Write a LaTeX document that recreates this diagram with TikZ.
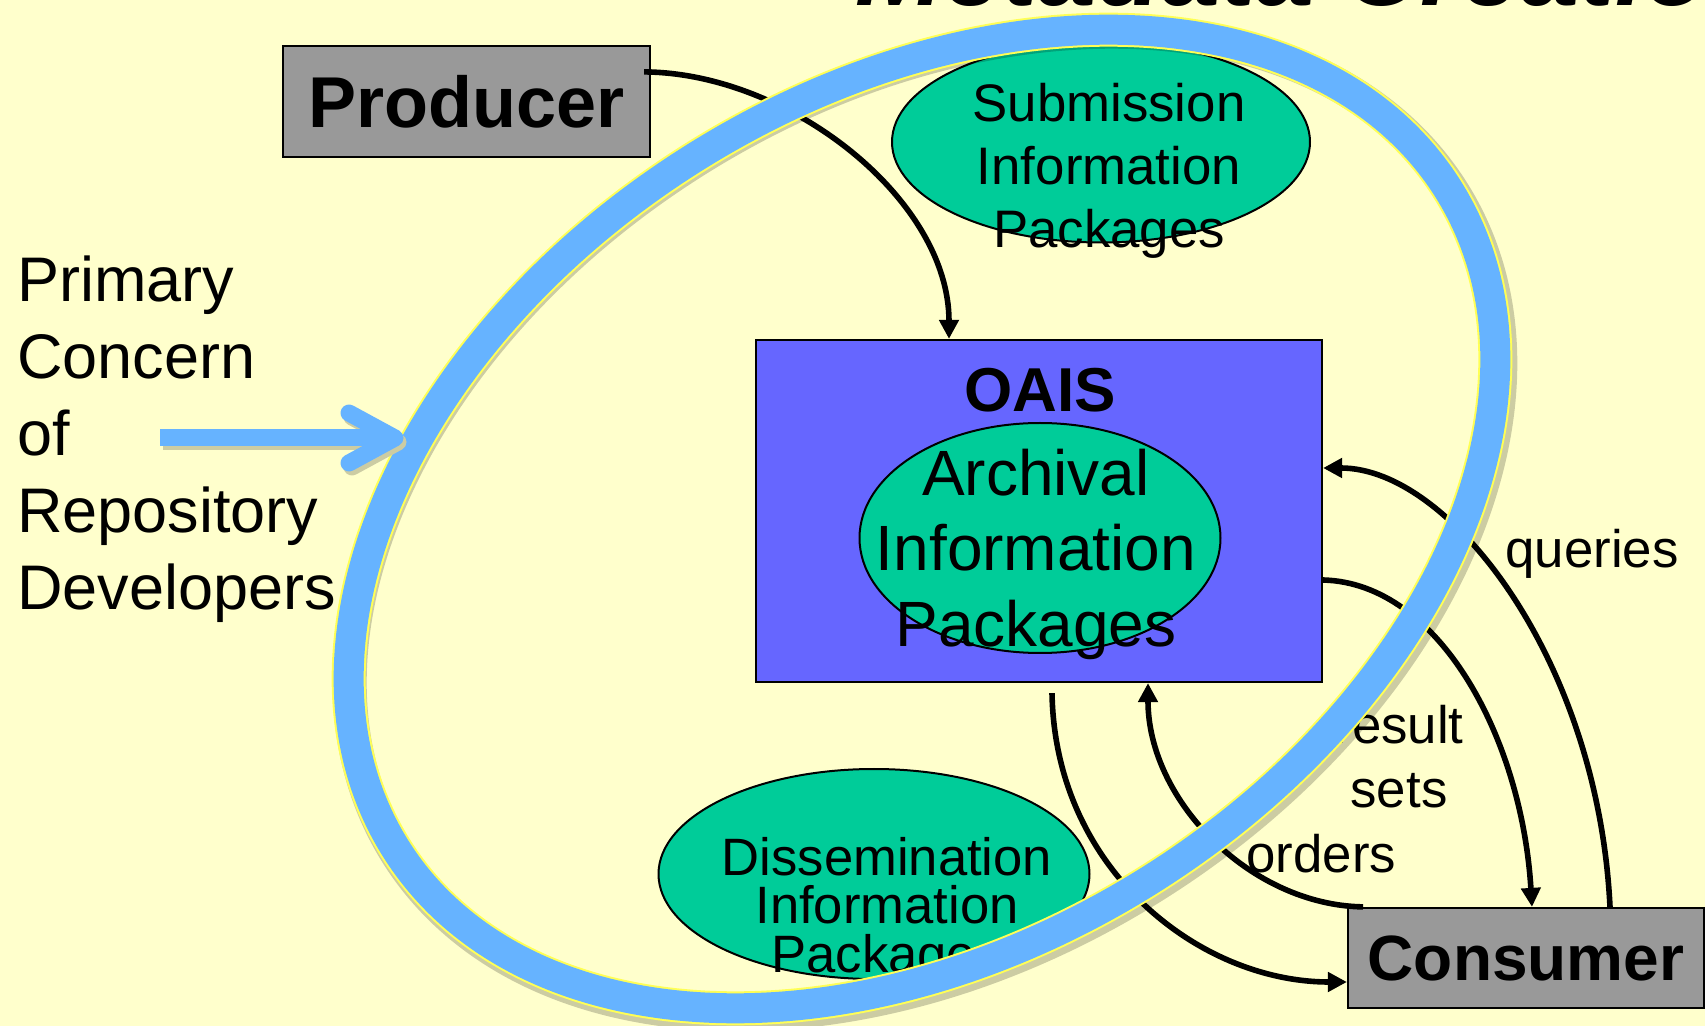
\documentclass[tikz,border=0pt]{standalone}
\usepackage{fontspec}
\setmainfont{Liberation Sans}
\usetikzlibrary{shapes.geometric,arrows.meta,calc}
\definecolor{paper}{HTML}{FFFFCC}
\definecolor{ringblue}{HTML}{66B3FF}
\definecolor{pkggreen}{HTML}{00CC99}
\definecolor{oaisblue}{HTML}{6666FF}
\definecolor{boxgrey}{HTML}{999999}
\definecolor{rimyellow}{HTML}{FFFF55}
\definecolor{dropgrey}{HTML}{CCCCA3}
\tikzset{
  actor/.style={draw, line width=1.1pt, fill=boxgrey, inner sep=0pt, font=\bfseries},
  pkg/.style={draw, ellipse, line width=1pt, fill=pkggreen, inner sep=0pt},
  pkgtext/.style={inner sep=0pt, align=center, anchor=base},
  flow/.style={line width=2.8pt, -{Triangle[length=9.5pt,width=9.5pt]}},
  word/.style={inner sep=0pt, font=\fontsize{26.4}{32}\selectfont},
}
\begin{document}
\begin{tikzpicture}[x=0.5pt, y=-0.5pt]
    \def\cx{922}
    \def\cy{519}
    % Page
    \useasboundingbox (0,0) rectangle (1705,1026);
    \clip (0,0) rectangle (1705,1026);
    \fill[paper] (0,0) rectangle (1705,1026);
    % Title, cut by the top edge
    \node[anchor=base west, inner sep=0pt, font=\fontsize{53}{60}\selectfont\bfseries\itshape] (title) at (855,6) {Metadata Creation};
    % Side note (base = last line)
    \node[anchor=base west, inner sep=0pt, align=left, font=\fontsize{31.5}{38.5}\selectfont] (concern) at (17,610) {Primary\\Concern\\of\\Repository\\Developers};
    % Packages outside the archive
    \node[pkg, minimum width=209pt, minimum height=100.5pt] (sip) at (1101,142) {};
    \node[pkg, minimum width=215.5pt, minimum height=105pt] (dip) at (874,874) {};
    % Producer, archive and consumer
    \node[actor, minimum width=183.5pt, minimum height=55.5pt, font=\fontsize{36}{40}\selectfont\bfseries] (producer) at (466.5,101.5) {Producer};
    \node[draw, line width=1.1pt, fill=oaisblue, minimum width=283pt, minimum height=171pt] (oais) at (1039,511) {};
    \node[actor, minimum width=178pt, minimum height=50pt, font=\fontsize{32}{36}\selectfont\bfseries] (consumer) at (1526,958) {Consumer};
    \node[anchor=base, inner sep=0pt, font=\fontsize{31}{36}\selectfont\bfseries] (oaislabel) at (1040,412) {OAIS};
    \node[pkg, minimum width=180.5pt, minimum height=115pt] (aip) at (1040,538) {};
    % Package texts
    \node[pkgtext, font=\fontsize{26.4}{31.5}\selectfont] (siptext) at (1109,248) {Submission\\Information\\Packages};
    \node[pkgtext, font=\fontsize{32}{38}\selectfont] (aiptext) at (1036,647) {Archival\\Information\\Packages};
    \node[pkgtext, font=\fontsize{26.3}{24.25}\selectfont] (diptext) at (887,972) {Dissemination\\Information\\Packages};
    % Flows
    \draw[flow] ([shift={(-7,27)}]producer.north east) .. controls (790,73) and (949,200) .. (oais.north -| 949,0);
    \draw[flow] (consumer.north -| 1610,0) .. controls (1598,660) and (1450,468) .. (oais.east |- 0,468);
    \draw[flow] (oais.east |- 0,580) .. controls (1440,583) and (1522,740) .. (consumer.north -| 1532,0);
    \draw[flow] (consumer.north -| 1363,0) .. controls (1250,905) and (1148,800) .. (oais.south -| 1148,0);
    \draw[flow] ($(oais.south -| 1052,0)+(0,10)$) .. controls (1055,870) and (1200,982) .. (consumer.west |- 0,982);
    % Flow labels
    \node[word, anchor=base west] (queries) at (1505,568) {queries};
    \node[word, anchor=base, align=center] (results) at (1399,807) {result\\sets};
    \node[word, anchor=base west] (orders) at (1246,872) {orders};
    % Ring round the repository
    \draw[line width=17pt, black, opacity=.2, rotate around={32:(\cx+3,\cy+4)}] (\cx+3,\cy+4) ellipse [x radius=623, y radius=429];
    \draw[line width=17pt, rimyellow, rotate around={32:(\cx,\cy)}] (\cx,\cy) ellipse [x radius=621, y radius=427];
    \draw[line width=15pt, ringblue, rotate around={32:(\cx,\cy)}] (\cx,\cy) ellipse [x radius=621, y radius=427];
    % Pointer to the ring
    \draw[line width=8.5pt, dropgrey] (163,442) -- (398,442);
    \draw[line width=8.5pt, dropgrey, line cap=round, line join=round] (352,417) -- (398,442) -- (352,467);
    \draw[line width=8.5pt, ringblue] (160,438) -- (395,438);
    \draw[line width=8.5pt, ringblue, line cap=round, line join=round] (349,413) -- (395,438) -- (349,463);
\end{tikzpicture}
\end{document}
